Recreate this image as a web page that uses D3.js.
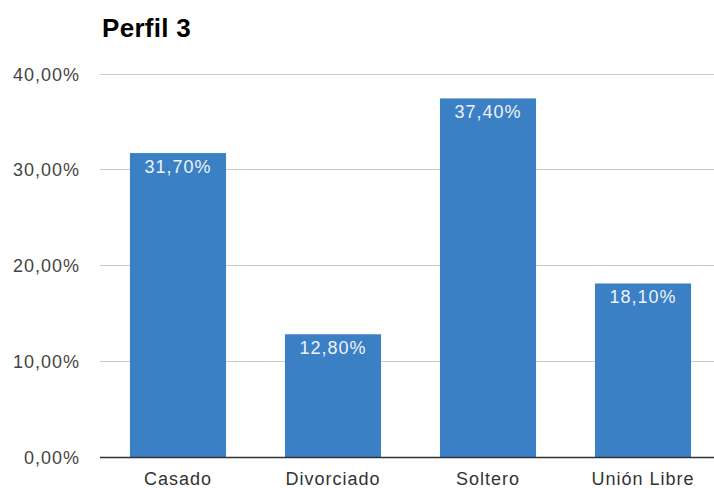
<!DOCTYPE html>
<html><head><meta charset="utf-8">
<script src="https://cdn.jsdelivr.net/npm/d3@7"></script>
<style>body{margin:0;background:#fff}svg{display:block}</style>
</head><body>
<script>
const categories = ["Casado", "Divorciado", "Soltero", "Unión Libre"];
const values = [31.7, 12.8, 37.4, 18.1];
const yTicks = [0, 10, 20, 30, 40];
const title = "Perfil 3";

const W = 714, H = 488;
const FONT = "Liberation Sans, Arial, sans-serif";
const svg = d3.select("body").append("svg").attr("width", W).attr("height", H);
const fmt = v => v.toFixed(2).replace(".", ",") + "%";

const x = d3.scaleBand().domain(categories).range([100.5, 720.5]).paddingInner(0.38).paddingOuter(0.19);
const y = d3.scaleLinear().domain([0, 40]).range([457, 73.5]);

svg.append("text").attr("x", 102).attr("y", 37).attr("font-family", FONT)
  .attr("font-weight", "bold").attr("font-size", 26).attr("letter-spacing", 0.3).attr("fill", "#000").text(title);

svg.append("g").selectAll("line").data(yTicks.filter(d => d > 0)).join("line")
  .attr("x1", 100).attr("x2", W).attr("y1", d => Math.round(y(d)) + 0.5).attr("y2", d => Math.round(y(d)) + 0.5)
  .attr("stroke", "#cccccc").attr("stroke-width", 1);

svg.append("g").selectAll("text").data(yTicks).join("text")
  .attr("x", 80).attr("y", d => y(d) + 7).attr("text-anchor", "end")
  .attr("font-family", FONT).attr("font-size", 18).attr("letter-spacing", 1).attr("fill", "#444")
  .text(d => fmt(d));

svg.append("g").selectAll("rect").data(values).join("rect")
  .attr("x", (d, i) => x(categories[i])).attr("width", x.bandwidth())
  .attr("y", d => y(d)).attr("height", d => y(0) - y(d)).attr("fill", "#3b7fc4");

svg.append("g").selectAll("text").data(values).join("text")
  .attr("x", (d, i) => x(categories[i]) + x.bandwidth() / 2).attr("y", d => y(d) + 20)
  .attr("text-anchor", "middle").attr("font-family", FONT)
  .attr("font-size", 18).attr("letter-spacing", 1).attr("fill", "#eef3fb")
  .text(d => fmt(d));

svg.append("line").attr("x1", 100).attr("x2", W).attr("y1", y(0) + 0.5).attr("y2", y(0) + 0.5)
  .attr("stroke", "#333").attr("stroke-width", 1.5);

svg.append("g").selectAll("text").data(categories).join("text")
  .attr("x", d => x(d) + x.bandwidth() / 2).attr("y", 485).attr("text-anchor", "middle")
  .attr("font-family", FONT).attr("font-size", 18).attr("letter-spacing", 1).attr("fill", "#333")
  .text(d => d);
</script>
</body></html>
